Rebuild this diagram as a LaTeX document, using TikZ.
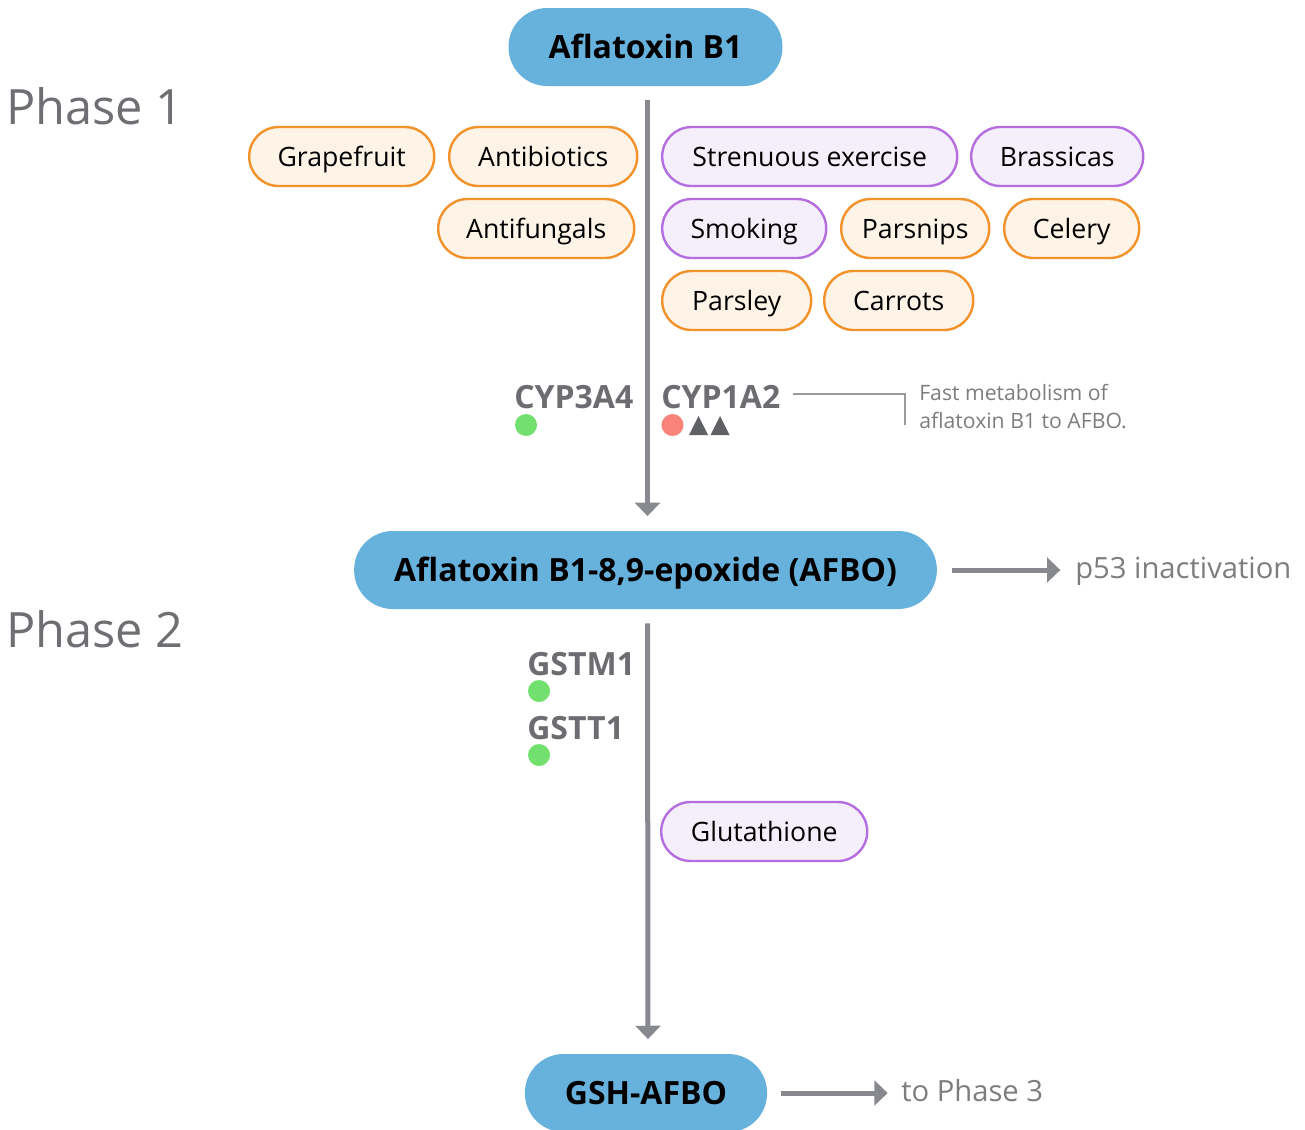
\documentclass[tikz,border=0pt]{standalone}
\usepackage{fontspec}
\setmainfont{Open Sans}
\usetikzlibrary{arrows.meta}
\definecolor{mainblue}{HTML}{67B2DD}
\definecolor{orstroke}{HTML}{F3922B}
\definecolor{orfill}{HTML}{FDF3E6}
\definecolor{pustroke}{HTML}{B56EE0}
\definecolor{pufill}{HTML}{F5EEFB}
\definecolor{flowgray}{HTML}{87898E}
\definecolor{phasegray}{HTML}{6E6F72}
\definecolor{genegray}{HTML}{6C6D70}
\definecolor{notegray}{HTML}{7B7D80}
\definecolor{leadgray}{HTML}{9A9B9E}
\definecolor{dotgreen}{HTML}{72E06F}
\definecolor{dotred}{HTML}{F7837A}
\definecolor{trigray}{HTML}{606164}
\begin{document}
\begin{tikzpicture}[x=0.75pt,y=-0.75pt,
  pill/.style={rectangle, rounded corners=22pt, minimum height=44.25pt,
    inner xsep=0pt, inner ysep=0pt, line width=1.8pt, anchor=west,
    text height=14.3pt, text depth=0pt,
    font=\fontsize{20}{24}\selectfont, text=black},
  pw/.style={minimum width={#1*0.75pt}},
  orpill/.style={pill, draw=orstroke, fill=orfill, pw=#1},
  pupill/.style={pill, draw=pustroke, fill=pufill, pw=#1},
  compound/.style={rectangle, rounded corners=29pt, minimum height=58.5pt,
    inner xsep=30pt, inner ysep=0pt, fill=mainblue,
    text height=17.2pt, text depth=0pt,
    font=\fontsize{24}{28}\selectfont\bfseries, text=black},
  phase/.style={anchor=base west, inner sep=0pt, text=phasegray,
    font=\fontsize{36.5}{42}\selectfont},
  gene/.style={anchor=base west, inner sep=0pt, text=genegray,
    font=\fontsize{24}{28}\selectfont\bfseries},
  outcome/.style={anchor=base west, inner sep=0pt, text=notegray,
    font=\fontsize{21.9}{26}\selectfont},
  flow/.style={draw=flowgray, line width=3.75pt,
    -{Triangle[width=18.5pt,length=10pt]}},
  dot/.style={circle, fill=#1, minimum size=16.5pt, inner sep=0pt}
]
\useasboundingbox (0,0) rectangle (1305,1129);

% phase headings
\node[phase] (ph1) at (6,124) {Phase 1};
\node[phase] (ph2) at (6,647) {Phase 2};

% compounds
\node[compound] (b1) at (645.5,47) {Aflatoxin B1};
\node[compound] (afbo) at (645.5,570) {Aflatoxin B1-8,9-epoxide (AFBO)};
\node[compound] (gsh) at (646,1093) {GSH-AFBO};

% main flow
\draw[flow, shorten <=10pt, shorten >=11pt] ([xshift=1.5pt]b1.south) -- ([xshift=1.5pt]afbo.north);
\draw[flow, shorten <=10.5pt, shorten >=11pt] ([xshift=1.5pt]afbo.south) -- ([xshift=1.5pt]gsh.north);

% phase 1 modifiers
\node[orpill=185] (grape) at (248,156.5) {Grapefruit};
\node[orpill=188] (antib) at (448,156.5) {Antibiotics};
\node[pupill=295] (exer) at (661,156.5) {Strenuous exercise};
\node[pupill=172] (brass) at (970,156.5) {Brassicas};
\node[orpill=196] (antif) at (437,228.5) {Antifungals};
\node[pupill=164] (smok) at (661,228.5) {Smoking};
\node[orpill=148] (pars) at (840,228.5) {Parsnips};
\node[orpill=135] (cel) at (1003,228.5) {Celery};
\node[orpill=149] (parl) at (661,300.5) {Parsley};
\node[orpill=149] (carr) at (823,300.5) {Carrots};

% phase 1 enzymes
\node[gene] (cyp3a4) at (514,408) {CYP3A4};
\node[dot=dotgreen] (d3a4) at (526,425) {};
\node[gene] (cyp1a2) at (661,408) {CYP1A2};
\node[dot=dotred] (d1a2) at (672.5,425) {};
\fill[trigray] (689,435) -- (708,435) -- (698.5,416) -- cycle;
\fill[trigray] (710.5,435) -- (729.5,435) -- (720,416) -- cycle;

% note on CYP1A2
\node[anchor=base west, inner sep=0pt, text=notegray, align=left,
  font=\fontsize{15.9}{21}\selectfont] (note) at (919,428)
  {Fast metabolism of\\aflatoxin B1 to AFBO.};
\coordinate (lead) at (905,394);
\draw[leadgray, line width=1pt] ([xshift=9pt]cyp1a2.east |- lead) -- (lead) -- ++(0,31);

% outcomes
\node[outcome] (p53) at (1075,578) {p53 inactivation};
\draw[flow, shorten <=11pt, shorten >=11pt] (afbo.east) -- (p53.west |- afbo.east);
\node[outcome] (ph3) at (901,1101) {to Phase 3};
\draw[flow, shorten <=10pt, shorten >=10pt] (gsh.east) -- (ph3.west |- gsh.east);

% phase 2 enzymes
\node[gene] (gstm1) at (527,675) {GSTM1};
\node[dot=dotgreen] (dm1) at (539,691) {};
\node[gene] (gstt1) at (527,739) {GSTT1};
\node[dot=dotgreen] (dt1) at (539,755) {};

% phase 2 modifier
\node[pupill=206] (glut) at (660,831.5) {Glutathione};
\end{tikzpicture}
\end{document}
